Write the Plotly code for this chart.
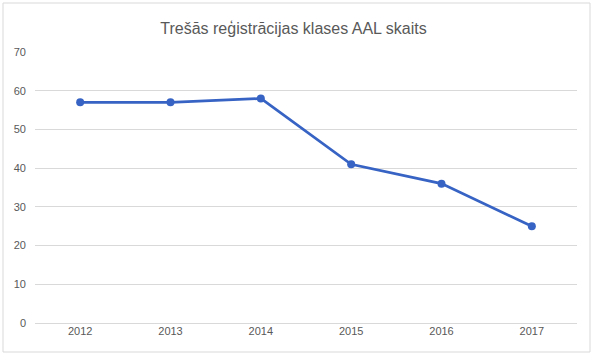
import plotly.graph_objects as go

years = ["2012", "2013", "2014", "2015", "2016", "2017"]
values = [57, 57, 58, 41, 36, 25]
y_ticks = [0, 10, 20, 30, 40, 50, 60, 70]

W, H = 594, 357
L, R, T, B = 35, 17, 52, 34
pw, ph = W - L - R, H - T - B

def px_x(x):
    return (x - L) / pw

def px_y(y):
    return (H - B - y) / ph

fig = go.Figure()
fig.add_trace(go.Scatter(
    x=years, y=values, mode="lines+markers",
    line=dict(color="#3663C4", width=2.75),
    marker=dict(color="#3663C4", size=8),
    showlegend=False,
))

fig.update_layout(
    width=W, height=H,
    margin=dict(l=L, r=R, t=T, b=B),
    paper_bgcolor="white", plot_bgcolor="white",
    font=dict(family="Liberation Sans", color="#595959", size=11),
    title=dict(text="Trešās reģistrācijas klases AAL skaits",
               x=293.5 / W, xref="container", xanchor="center", y=1 - 28 / H, yanchor="middle",
               font=dict(family="Liberation Sans", size=16, color="#595959")),
    xaxis=dict(type="category", range=[-0.5, 5.5], showgrid=False, showline=False,
               ticks="", tickfont=dict(size=11, color="#595959"), fixedrange=True),
    yaxis=dict(range=[0, 70], tickvals=y_ticks, showgrid=True, gridcolor="#D9D9D9",
               gridwidth=1, zeroline=True, zerolinecolor="#D9D9D9", zerolinewidth=1,
               showline=False, ticks="", ticklabelstandoff=8,
               tickfont=dict(size=11, color="#595959")),
    shapes=[dict(type="rect", xref="paper", yref="paper",
                 x0=px_x(3), x1=px_x(590), y0=px_y(352), y1=px_y(3),
                 line=dict(color="#D9D9D9", width=1), layer="below")],
)

fig.write_html("out.html")
